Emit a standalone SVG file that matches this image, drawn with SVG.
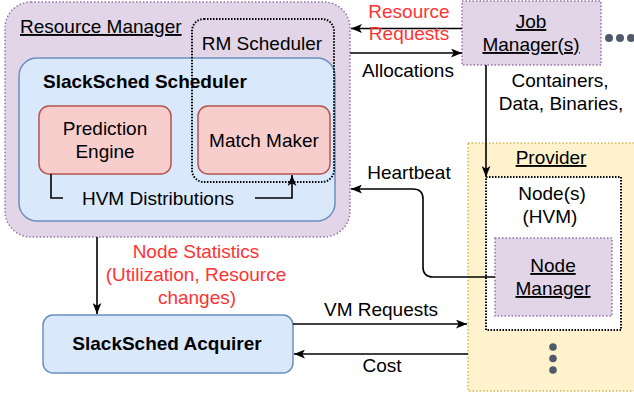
<svg xmlns="http://www.w3.org/2000/svg" width="634" height="395" viewBox="0 0 634 395">
<style>
text{font-family:"Liberation Sans",Arial,Helvetica,sans-serif;font-size:19px;fill:#000}
.c{text-anchor:middle}
.b{font-weight:bold}
.u{text-decoration:underline}
.red{fill:#ff3333}
.purple{fill:#e1d5e7;stroke:#9673a6;stroke-width:1.5;stroke-dasharray:1.5 2}
.blue{fill:#dae8fc;stroke:#6c8ebf;stroke-width:1.5}
.pink{fill:#f8cecc;stroke:#b85450;stroke-width:1.5}
.yellow{fill:#fff2cc;stroke:#d6b656;stroke-width:1.5;stroke-dasharray:1.5 2}
.dot{fill:none;stroke:#000;stroke-width:2;stroke-dasharray:1.5 1.5}
.dotw{fill:#fff;stroke:#000;stroke-width:2;stroke-dasharray:1.5 1.5}
.edge{fill:none;stroke:#000;stroke-width:1.6}
.arr{marker-end:url(#ah)}
.gd{fill:#4f5a6b}
</style>
<defs>
<marker id="ah" viewBox="0 0 10 8" refX="10" refY="4" markerWidth="11" markerHeight="9" markerUnits="userSpaceOnUse" orient="auto">
<path d="M0,0 L10,4 L0,8 L2.5,4 z" fill="#000"/>
</marker>
</defs>

<g id="resource-manager">
<rect class="purple" x="5" y="2" width="345" height="235" rx="26"/>
<text class="u" x="20" y="33">Resource Manager</text>
</g>
<g id="slacksched-scheduler">
<rect class="blue" x="19" y="58" width="316" height="163" rx="18"/>
<text class="b" x="43" y="88">SlackSched Scheduler</text>
</g>
<g id="rm-scheduler">
<rect class="dot" x="192" y="19" width="142" height="163" rx="12"/>
<text class="c" x="262" y="50">RM Scheduler</text>
</g>
<g id="prediction-engine">
<rect class="pink" x="39" y="106" width="132" height="68" rx="10"/>
<text class="c" x="105" y="135">Prediction</text>
<text class="c" x="105" y="158">Engine</text>
</g>
<g id="match-maker">
<rect class="pink" x="198" y="106" width="132" height="68" rx="10"/>
<text class="c" x="264" y="147">Match Maker</text>
</g>
<g id="job-manager">
<rect class="purple" x="462" y="1" width="139" height="64"/>
<text class="c u" x="531" y="28">Job</text>
<text class="c u" x="531" y="51">Manager(s)</text>
<circle class="gd" cx="609" cy="38" r="4"/>
<circle class="gd" cx="620" cy="38" r="4"/>
<circle class="gd" cx="631" cy="38" r="4"/>
</g>
<g id="provider">
<rect class="yellow" x="468" y="143" width="180" height="248"/>
<text class="c u" x="551" y="164">Provider</text>
<circle class="gd" cx="553" cy="347" r="3.8"/>
<circle class="gd" cx="553" cy="358.5" r="3.8"/>
<circle class="gd" cx="553" cy="370" r="3.8"/>
</g>
<g id="nodes">
<rect class="dotw" x="486" y="177" width="135" height="153"/>
<text class="c" x="552" y="200">Node(s)</text>
<text class="c" x="550" y="223">(HVM)</text>
</g>
<g id="node-manager">
<rect class="purple" x="495" y="238" width="117" height="78"/>
<text class="c u" x="553" y="272">Node</text>
<text class="c u" x="553" y="295">Manager</text>
</g>
<g id="slacksched-acquirer">
<rect class="blue" x="43" y="315" width="250" height="58" rx="10"/>
<text class="c b" x="167" y="350">SlackSched Acquirer</text>
</g>

<g id="connectors">
<path class="edge arr" d="M51,174 V198 H292 V175"/>
<rect x="63" y="186" width="192" height="24" fill="#dae8fc"/>
<text class="c" x="158" y="205">HVM Distributions</text>

<path class="edge arr" d="M462,28.5 H351"/>
<text class="c red" x="409" y="18">Resource</text>
<text class="c red" x="409" y="40">Requests</text>

<path class="edge arr" d="M350,53 H462"/>
<text class="c" x="408" y="77">Allocations</text>

<path class="edge arr" d="M486,65 V177"/>
<text class="c" x="560" y="87">Containers,</text>
<text class="c" x="561" y="110">Data, Binaries,</text>

<path class="edge arr" d="M495,277 H433 Q423,277 423,267 V199 Q423,189 413,189 H351"/>
<text class="c" x="409" y="179">Heartbeat</text>

<path class="edge arr" d="M97,237 V314"/>
<text class="c red" x="196" y="258">Node Statistics</text>
<text class="c red" x="196" y="281">(Utilization, Resource</text>
<text class="c red" x="197" y="304">changes)</text>

<path class="edge arr" d="M293,324 H467"/>
<text class="c" x="381" y="316">VM Requests</text>

<path class="edge arr" d="M468,354 H294"/>
<text class="c" x="382" y="372">Cost</text>
</g>
</svg>
